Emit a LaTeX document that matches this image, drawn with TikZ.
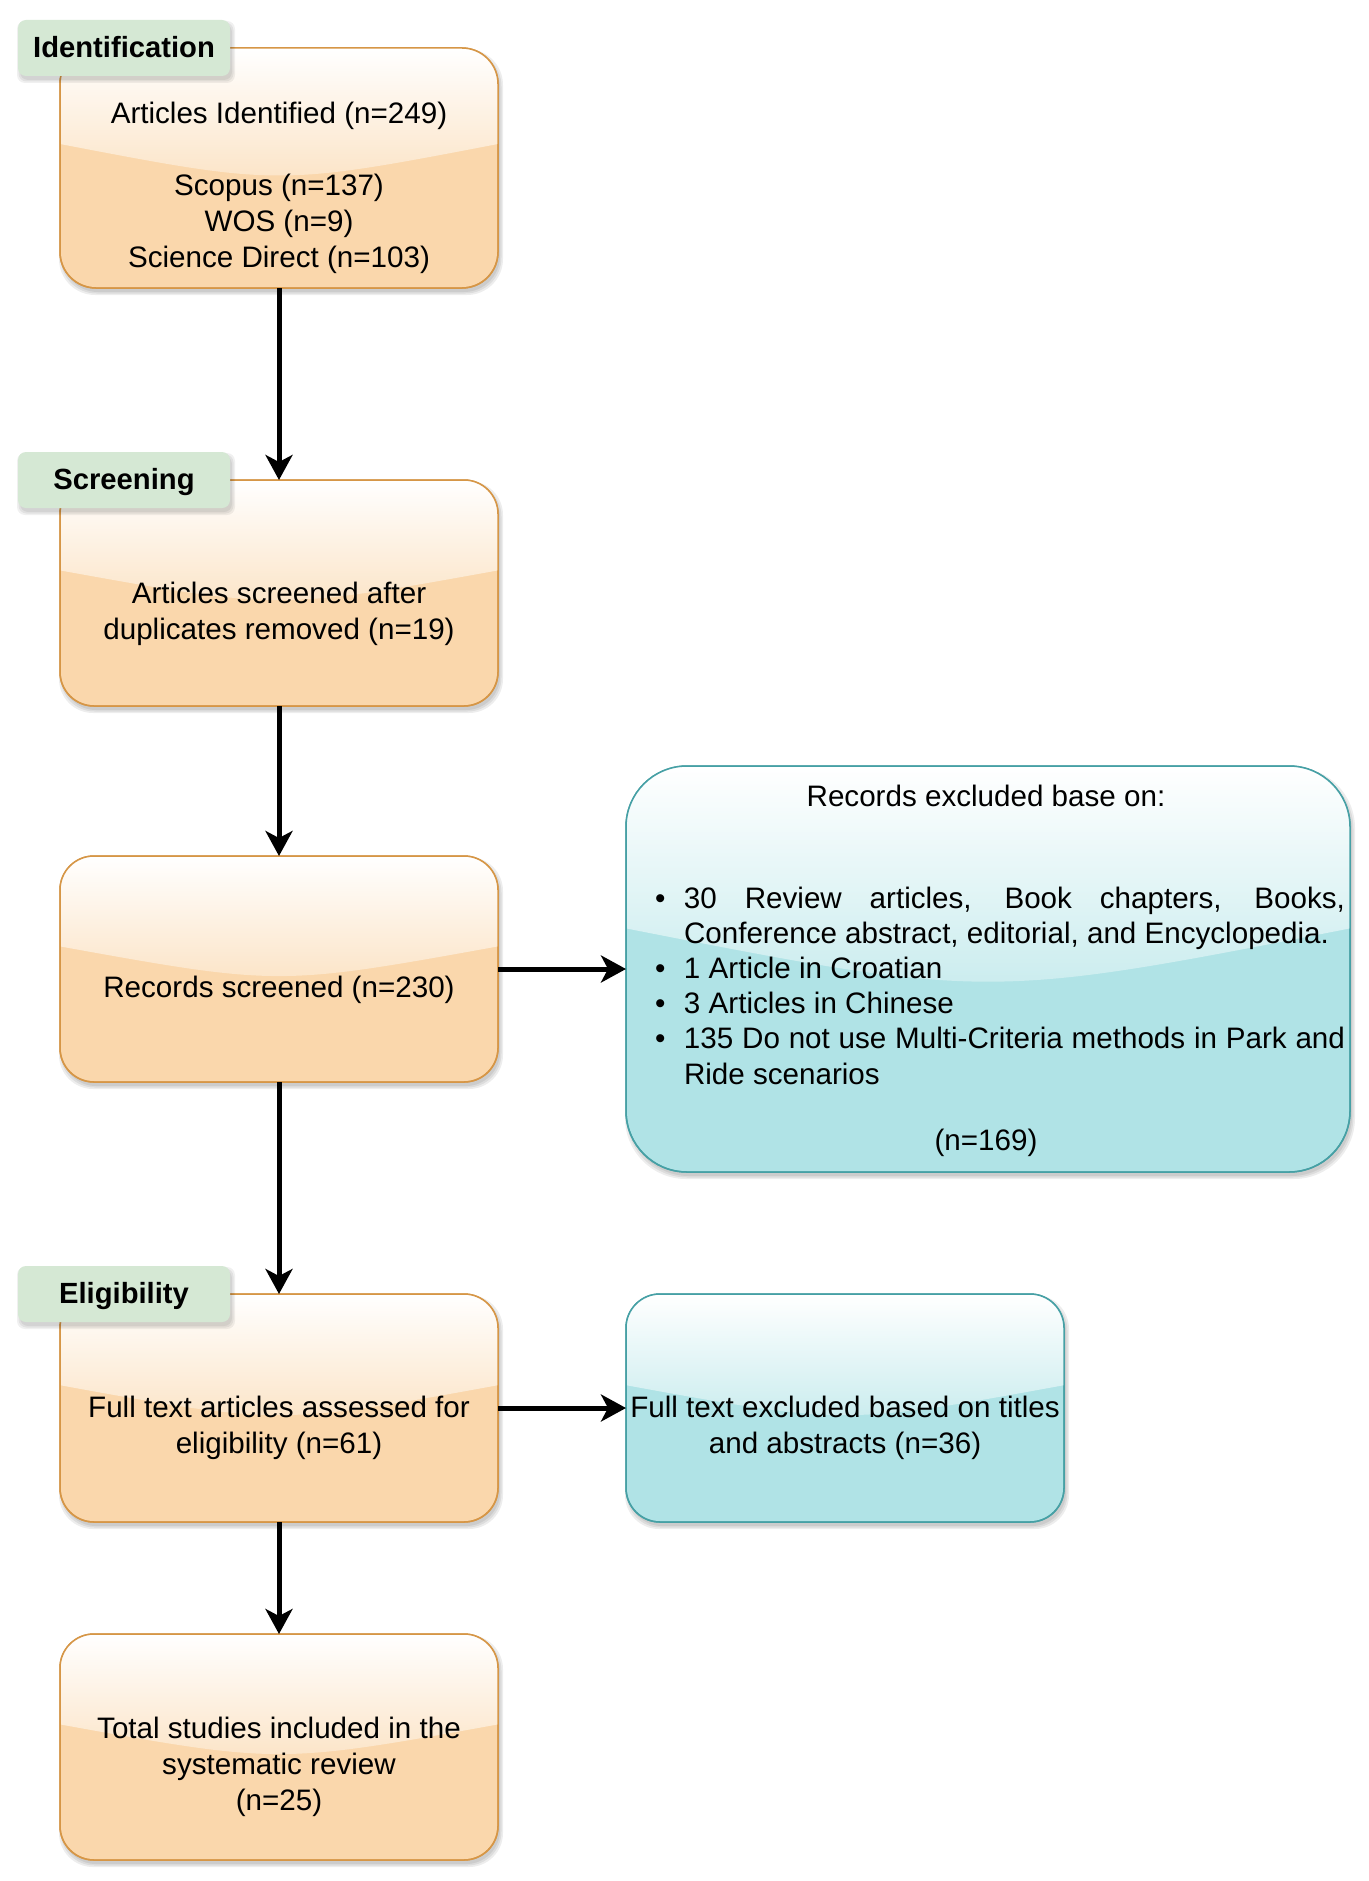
\documentclass[tikz,border=0pt]{standalone}
\usepackage{fontspec}
\setmainfont{Liberation Sans}
\usetikzlibrary{arrows.meta}
\definecolor{orfill}{HTML}{FAD7AC}
\definecolor{orline}{RGB}{214,150,70}
\definecolor{tefill}{HTML}{B0E3E6}
\definecolor{teline}{RGB}{70,160,165}
\definecolor{lafill}{HTML}{D5E8D4}
\newcommand{\gbox}[8]{%
 \pgfmathsetmacro\gcx{(#2+#4)/2}%
 \pgfmathsetmacro\gcy{(#3+#5)/2}%
 \pgfmathsetmacro\gw{#4-#2}%
 \pgfmathsetmacro\gh{#5-#3}%
 \pgfmathsetmacro\gya{#3+0.4*\gh}%
 \pgfmathsetmacro\gyc{#3+0.575*\gh}%
 \foreach \k in {0,1.5,3}{\fill[black,opacity=0.07,rounded corners=#8] (#2+2-\k,#3+4-\k) rectangle (#4+2+\k,#5+4+\k);}
 \node[draw=#7, fill=#6, line width=1.5pt, rounded corners=#8, minimum width=\gw pt, minimum height=\gh pt, inner sep=0pt, outer sep=0pt] (#1) at (\gcx,\gcy) {};
 \begin{scope}
  \clip[rounded corners=#8] (#2,#3) rectangle (#4,#5);
  \shade[top color=white, bottom color=#6!70!white] (#2,#3) -- (#4,#3) -- (#4,\gya) .. controls (\gcx,\gyc) .. (#2,\gya) -- cycle;
 \end{scope}
 \draw[#7, line width=1.5pt, rounded corners=#8] (#2,#3) rectangle (#4,#5);
}
\newcommand{\lbox}[3]{% name, cy, text
 \foreach \k in {0,1.5,3}{\fill[black,opacity=0.06,rounded corners=8pt] (18+2-\k,#2-28+4-\k) rectangle (230+2+\k,#2+28+4+\k);}
 \node[lab] (#1) at (124,#2) {#3};
}
\tikzset{
 txt/.style={inner sep=0pt, outer sep=0pt, align=center, font=\fontsize{29.6}{35.6}\selectfont},
 lab/.style={fill=lafill, rounded corners=8pt, minimum width=212pt, minimum height=56pt, inner sep=0pt,
   text height=23pt, text depth=4pt, font=\fontsize{29.2}{35}\selectfont\bfseries},
 arr/.style={line width=5pt, -{Stealth[length=25pt,width=27pt,inset=7pt]}}
}
\begin{document}
\begin{tikzpicture}[x=1pt,y=-1pt]
\useasboundingbox (0,0) rectangle (1368,1881);
\fill[white] (0,0) rectangle (1368,1881);
% boxes
\gbox{b1}{60}{48}{498}{288}{orfill}{orline}{36pt}
\gbox{b2}{60}{480}{498}{706}{orfill}{orline}{34pt}
\gbox{b3}{60}{856}{498}{1082}{orfill}{orline}{34pt}
\gbox{b4}{60}{1294}{498}{1522}{orfill}{orline}{34pt}
\gbox{b5}{60}{1634}{498}{1860}{orfill}{orline}{34pt}
\gbox{e1}{626}{766}{1350}{1172}{tefill}{teline}{61pt}
\gbox{e2}{626}{1294}{1064}{1522}{tefill}{teline}{34pt}
% labels
\lbox{l1}{48}{Identification}
\lbox{l2}{480}{Screening}
\lbox{l3}{1294}{Eligibility}
% texts (anchor base = baseline of the last line)
\node[txt, anchor=base] (tb1a) at (279,124) {Articles Identified (n=249)};
\node[txt, anchor=base] (tb1b) at (279,267) {Scopus (n=137)\\WOS (n=9)\\Science Direct (n=103)};
\node[txt, anchor=base] (tb2) at (279,639) {Articles screened after\\duplicates removed (n=19)};
\node[txt, anchor=base] (tb3) at (279,997) {Records screened (n=230)};
\node[txt, anchor=base] (tb4) at (279,1453) {Full text articles assessed for\\eligibility (n=61)};
\node[txt, anchor=base] (tb5) at (279,1810) {Total studies included in the\\systematic review\\(n=25)};
\node[txt, anchor=base] (te1h) at (986,806) {Records excluded base on:};
\node[txt, anchor=base west, align=left, font=\fontsize{29.6}{35.2}\selectfont] (te1b) at (655,1084) {%
\makebox[29pt][l]{•}\makebox[661pt][s]{30 Review articles, Book chapters, Books,}\\
\hspace*{29pt}Conference abstract, editorial, and Encyclopedia.\\
\makebox[29pt][l]{•}1 Article in Croatian\\
\makebox[29pt][l]{•}3 Articles in Chinese\\
\makebox[29pt][l]{•}\makebox[661pt][s]{135 Do not use Multi-Criteria methods in Park and}\\
\hspace*{29pt}Ride scenarios};
\node[txt, anchor=base] (te1n) at (986,1150) {(n=169)};
\node[txt, anchor=base] (te2) at (845,1453) {Full text excluded based on titles\\and abstracts (n=36)};
% arrows
\draw[arr] (b1.south) -- (b2.north);
\draw[arr] (b2.south) -- (b3.north);
\draw[arr] (b3.south) -- (b4.north);
\draw[arr] (b4.south) -- (b5.north);
\draw[arr] (b3.east) -- (e1.west);
\draw[arr] (b4.east) -- (e2.west);
\end{tikzpicture}
\end{document}
